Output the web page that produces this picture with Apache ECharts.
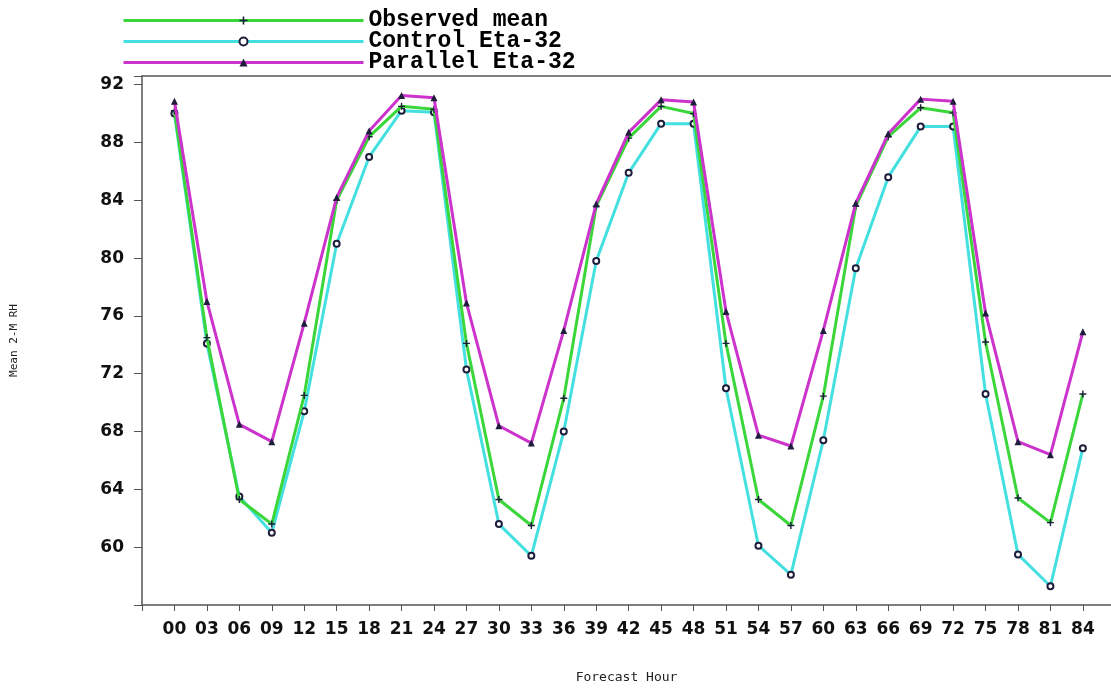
<!DOCTYPE html>
<html>
<head>
<meta charset="utf-8">
<script src="https://cdn.jsdelivr.net/npm/echarts@6/dist/echarts.min.js"></script>
<style>html,body{margin:0;padding:0;background:#fff;}#c{width:1111px;height:689px;}</style>
</head>
<body>
<div id="c"></div>
<script>
var hours = [0,3,6,9,12,15,18,21,24,27,30,33,36,39,42,45,48,51,54,57,60,63,66,69,72,75,78,81,84];
var observedMean = [90.2,74.5,63.3,61.6,70.5,84.0,88.4,90.5,90.3,74.1,63.3,61.5,70.3,83.6,88.3,90.5,90.0,74.1,63.3,61.5,70.45,83.6,88.4,90.4,90.05,74.2,63.4,61.7,70.6];
var controlEta = [90.0,74.1,63.5,61.0,69.4,81.0,87.0,90.2,90.1,72.3,61.6,59.4,68.0,79.8,85.9,89.3,89.3,71.0,60.1,58.1,67.4,79.3,85.6,89.1,89.1,70.6,59.5,57.3,66.85];
var parallelEta = [90.85,77.0,68.5,67.3,75.5,84.2,88.8,91.25,91.1,76.9,68.4,67.2,75.0,83.75,88.7,90.95,90.8,76.3,67.75,67.0,75.0,83.8,88.6,91.0,90.85,76.2,67.3,66.4,74.9];
var yTicks = [60,64,68,72,76,80,84,88,92];

function pairs(arr){ return hours.map(function(h,i){ return [h, arr[i]]; }); }
function pad(v){ return (v < 10 ? '0' : '') + v; }

var markColor = '#1e1e3c';
var plusPath = 'path://M4,0H6V4H10V6H6V10H4V6H0V4H4Z';

var chart = echarts.init(document.getElementById('c'));
chart.setOption({
  backgroundColor: '#ffffff',
  animation: false,
  legend: {
    orient: 'vertical',
    left: 117,
    top: 4,
    itemWidth: 240,
    itemHeight: 10,
    itemGap: -2,
    lineStyle: { width: 3 },
    textStyle: { fontFamily: 'Liberation Mono', fontWeight: 'bold', fontSize: 23, color: '#000', lineHeight: 21 },
    data: ['Observed mean', 'Control Eta-32', 'Parallel Eta-32']
  },
  grid: { left: 142, top: 76, right: 0, bottom: 82 },
  xAxis: [{
    type: 'value', min: -3, max: 86.6, interval: 3,
    name: 'Forecast Hour', nameLocation: 'middle', nameGap: 66,
    nameTextStyle: { fontFamily: 'DejaVu Sans Mono', fontSize: 13, color: '#222' },
    axisLine: { show: true, onZero: false, lineStyle: { color: '#555', width: 1.5 } },
    axisTick: { show: true, length: 6, lineStyle: { color: '#555' } },
    axisLabel: {
      margin: 16, fontFamily: 'DejaVu Sans', fontWeight: 'bold', fontSize: 17, color: '#111',
      formatter: function(v){ return v < 0 ? '' : pad(v); }
    },
    splitLine: { show: false }
  }, {
    type: 'value', min: -3, max: 86.6, interval: 3, position: 'top',
    axisLine: { show: true, onZero: false, lineStyle: { color: '#555', width: 1.5 } },
    axisTick: { show: false }, axisLabel: { show: false }, splitLine: { show: false }
  }],
  yAxis: {
    type: 'value', min: 56, max: 92.6, interval: 4,
    name: 'Mean 2-M RH', nameLocation: 'middle', nameGap: 122, nameRotate: 90,
    nameTextStyle: { fontFamily: 'DejaVu Sans Mono', fontSize: 11, color: '#222' },
    axisLine: { show: true, onZero: false, lineStyle: { color: '#555', width: 1.5 } },
    axisTick: { show: true, length: 8, lineStyle: { color: '#555' } },
    axisLabel: {
      margin: 18, fontFamily: 'DejaVu Sans', fontWeight: 'bold', fontSize: 17, color: '#111',
      formatter: function(v){ return yTicks.indexOf(v) >= 0 ? String(v) : ''; }
    },
    splitLine: { show: false }
  },
  series: [{
    name: 'Observed mean', type: 'line', data: pairs(observedMean), z: 3,
    symbol: plusPath, symbolSize: 7,
    lineStyle: { color: '#3ad63a', width: 3 },
    itemStyle: { color: markColor }
  }, {
    name: 'Control Eta-32', type: 'line', data: pairs(controlEta), z: 2,
    symbol: 'emptyCircle', symbolSize: 6,
    lineStyle: { color: '#44e0e0', width: 3 },
    itemStyle: { color: markColor, borderColor: markColor, borderWidth: 1.5 }
  }, {
    name: 'Parallel Eta-32', type: 'line', data: pairs(parallelEta), z: 4,
    symbol: 'triangle', symbolSize: 7,
    lineStyle: { color: '#cc33cc', width: 3 },
    itemStyle: { color: markColor }
  }]
});
</script>
</body>
</html>
